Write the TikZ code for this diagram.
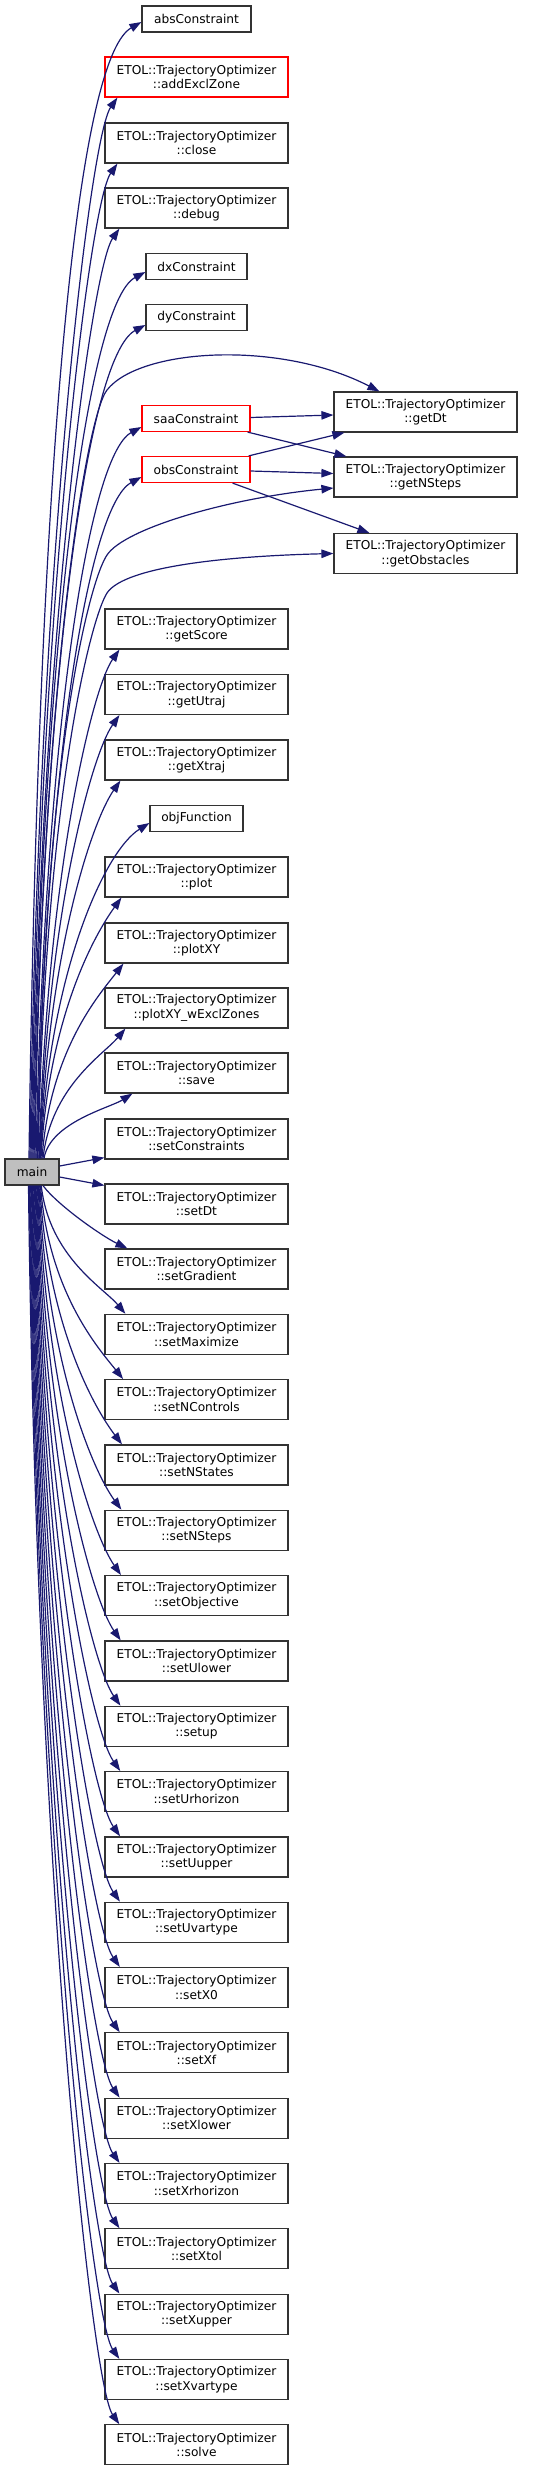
\documentclass[tikz,border=0pt]{standalone}
\usepackage{fontspec}
\setmainfont{DejaVu Sans}
\usetikzlibrary{arrows.meta}
\definecolor{edgeblue}{HTML}{191970}
\definecolor{bordergray}{HTML}{333333}
\definecolor{maingray}{HTML}{BFBFBF}
\begin{document}
\begin{tikzpicture}[x=1pt,y=1pt,
 box/.style={draw=bordergray,line width=1.2pt,fill=white,inner sep=0pt,minimum width=183pt,minimum height=40pt,align=center,font=\fontsize{12.2}{14.5}\selectfont},
 sbox/.style={box,minimum height=26pt},
 hot/.style={draw=red},
 edge/.style={draw=edgeblue,line width=1.2pt,-{Triangle[length=12pt,width=8.5pt]}}]
\useasboundingbox (0,0) rectangle (535,-2471);
% main
\node[box,fill=maingray,minimum width=54pt,minimum height=26pt] (main) at (32,-1172) {main};
% upper column
\node[sbox,minimum width=109pt] (nabs) at (196.5,-19) {absConstraint};
\node[box,hot] (naddExcl) at (196.5,-77) {ETOL::TrajectoryOptimizer\\::addExclZone};
\node[box] (nclose) at (196.5,-143) {ETOL::TrajectoryOptimizer\\::close};
\node[box] (ndebug) at (196.5,-208) {ETOL::TrajectoryOptimizer\\::debug};
\node[sbox,minimum width=101pt] (ndx) at (196.5,-266.5) {dxConstraint};
\node[sbox,minimum width=101pt] (ndy) at (196.5,-317.5) {dyConstraint};
\node[sbox,hot,minimum width=108pt] (nsaa) at (196,-418.5) {saaConstraint};
\node[sbox,hot,minimum width=108pt] (nobs) at (196,-469.5) {obsConstraint};
\node[box] (ngetDt) at (425.5,-412) {ETOL::TrajectoryOptimizer\\::getDt};
\node[box] (ngetNSteps) at (425.5,-477) {ETOL::TrajectoryOptimizer\\::getNSteps};
\node[box] (ngetObstacles) at (425.5,-553.5) {ETOL::TrajectoryOptimizer\\::getObstacles};
\node[box] (ngetScore) at (196.5,-629) {ETOL::TrajectoryOptimizer\\::getScore};
\node[box] (ngetUtraj) at (196.5,-694.5) {ETOL::TrajectoryOptimizer\\::getUtraj};
\node[box] (ngetXtraj) at (196.5,-760) {ETOL::TrajectoryOptimizer\\::getXtraj};
\node[sbox,minimum width=93pt] (nobj) at (196.5,-818.5) {objFunction};
\node[box] (nplot) at (196.5,-877) {ETOL::TrajectoryOptimizer\\::plot};
\node[box] (nplotXY) at (196.5,-943) {ETOL::TrajectoryOptimizer\\::plotXY};
\node[box] (nplotXYw) at (196.5,-1008) {ETOL::TrajectoryOptimizer\\::plotXY\_wExclZones};
\node[box] (nsave) at (196.5,-1073) {ETOL::TrajectoryOptimizer\\::save};
\node[box] (nsetConstraints) at (196.5,-1139) {ETOL::TrajectoryOptimizer\\::setConstraints};
\node[box] (nsetDt) at (196.5,-1204) {ETOL::TrajectoryOptimizer\\::setDt};
% lower column
\foreach \n [count=\k from 0] in {setGradient,setMaximize,setNControls,setNStates,setNSteps,setObjective,setUlower,setup,setUrhorizon,setUupper,setUvartype,setX0,setXf,setXlower,setXrhorizon,setXtol,setXupper,setXvartype,solve}
  \node[box] (n\n) at (196.5,{-1269-65.32*\k}) {ETOL::TrajectoryOptimizer\\::\n};

% edges to upper nodes
\draw[edge] ([xshift=-3pt]main.north) .. controls +(8,625) and +(-70,-40) .. ([yshift=-3pt]nabs.west);
\draw[edge] ([xshift=-2pt]main.north) .. controls +(8,584) and +(-28,-40) .. ([xshift=13pt]naddExcl.south west);
\draw[edge] ([xshift=-1pt]main.north) .. controls +(8,548) and +(-28,-40) .. ([xshift=13pt]nclose.south west);
\draw[edge] ([xshift=0pt]main.north) .. controls +(8,512) and +(-28,-40) .. ([xshift=15pt]ndebug.south west);
\draw[edge] ([xshift=1pt]main.north) .. controls +(8,488) and +(-60,-32) .. ([yshift=-5.5pt]ndx.west);
\draw[edge] ([xshift=2pt]main.north) .. controls +(8,459) and +(-60,-32) .. ([yshift=-7.5pt]ndy.west);
\draw[edge] ([xshift=3pt]main.north) .. controls (41,-700) and (85,-418) .. (107,-390) .. controls (140,-348) and (280,-340) .. ([xshift=46pt]ngetDt.north west);
\draw[edge] ([xshift=4pt]main.north) .. controls +(8,403) and +(-55,-30) .. ([yshift=-8.5pt]nsaa.west);
\draw[edge] ([xshift=5pt]main.north) .. controls +(8,375) and +(-55,-30) .. ([yshift=-7.5pt]nobs.west);
\draw[edge] ([xshift=5.5pt]main.north) .. controls (44,-750) and (90,-580) .. (107,-555) .. controls (125,-528) and (230,-498) .. ([yshift=-11pt]ngetNSteps.west);
\draw[edge] ([xshift=6pt]main.north) .. controls (45,-800) and (90,-620) .. (107,-593) .. controls (125,-566) and (230,-556) .. (ngetObstacles.west);
\draw[edge] ([xshift=7pt]main.north) .. controls +(8,280) and +(-28,-40) .. ([xshift=15pt]ngetScore.south west);
\draw[edge] ([xshift=7.5pt]main.north) .. controls +(8,244) and +(-28,-40) .. ([xshift=15pt]ngetUtraj.south west);
\draw[edge] ([xshift=8pt]main.north) .. controls +(8,208) and +(-28,-40) .. ([xshift=16pt]ngetXtraj.south west);
\draw[edge] ([xshift=8.5pt]main.north) .. controls +(8,185) and +(-45,-28) .. ([yshift=-4.5pt]nobj.west);
\draw[edge] ([xshift=9pt]main.north) .. controls +(8,144) and +(-26,-36) .. ([xshift=17pt]nplot.south west);
\draw[edge] ([xshift=10pt]main.north) .. controls +(8,108) and +(-25,-32) .. ([xshift=19pt]nplotXY.south west);
\draw[edge] ([xshift=11pt]main.north) .. controls +(8,72) and +(-22,-26) .. ([xshift=21pt]nplotXYw.south west);
\draw[edge] ([xshift=12pt]main.north) .. controls +(6,36) and +(-22,-14) .. ([xshift=28pt]nsave.south west);
% side edges
\draw[edge] ([yshift=6pt]main.east) -- ([yshift=2pt]nsetConstraints.south west);
\draw[edge] ([yshift=-5pt]main.east) -- ([yshift=-2pt]nsetDt.north west);
\draw[edge] ([xshift=11pt]main.south) .. controls +(15,-20) and +(-25,12) .. ([xshift=23pt]nsetGradient.north west);
% edges to lower nodes
\foreach \n [count=\k] in {setMaximize,setNControls,setNStates,setNSteps,setObjective,setUlower,setup,setUrhorizon,setUupper,setUvartype,setX0,setXf,setXlower,setXrhorizon,setXtol,setXupper,setXvartype,solve}{
  \pgfmathsetmacro\D{64+65.32*\k}
  \pgfmathsetmacro\cy{-0.55*\D}
  \pgfmathsetmacro\s{10-0.75*\k}
  \pgfmathsetmacro\tx{13+8/sqrt(\k)}
  \pgfmathsetmacro\ax{min(28,20+2*\k)}
  \pgfmathsetmacro\ay{min(40,22+4*\k)}
  \draw[edge] ([xshift=\s pt]main.south) .. controls +(8,\cy) and +(-\ax,\ay) .. ([xshift=\tx pt]n\n.north west);
}
% edges among callees
\draw[edge] ([yshift=1pt]nsaa.east) -- ([yshift=-3pt]ngetDt.west);
\draw[edge] ([xshift=-3pt]nsaa.south east) -- ([xshift=13pt]ngetNSteps.north west);
\draw[edge] ([xshift=-2pt]nobs.north east) -- ([xshift=11pt]ngetDt.south west);
\draw[edge] ([yshift=-1.5pt]nobs.east) -- ([yshift=3.5pt]ngetNSteps.west);
\draw[edge] ([xshift=-18pt]nobs.south east) -- ([xshift=36pt]ngetObstacles.north west);
\end{tikzpicture}
\end{document}
